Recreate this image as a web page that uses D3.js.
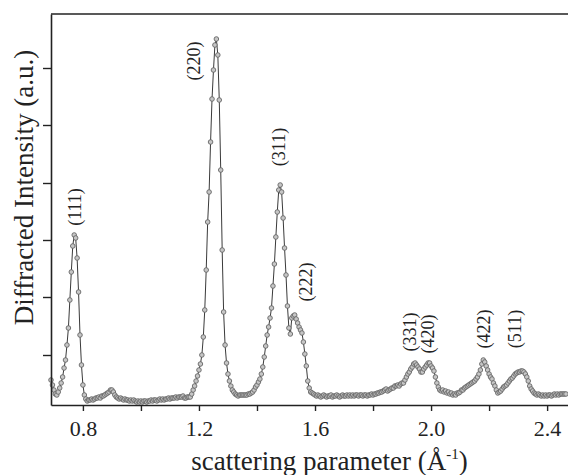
<!DOCTYPE html>
<html><head><meta charset="utf-8">
<script src="https://cdn.jsdelivr.net/npm/d3@7"></script>
<style>body{margin:0;background:#fff}svg{display:block}</style>
</head><body>
<svg id="c" width="568" height="475"></svg>
<script>
// ---- data ----
const qStart = 0.69;      // first scattering parameter (1/Å)
const qStep = 0.005;      // sampling step (1/Å)
const intensity = [
  // 0.690 - 0.815
  25,20,15,11,10,13,17,22,28,37,45,60,77,105,133,159,170,167,147,113,70,40,20,10,6,4,
  // 0.820 - 1.145
  5,5,6,5,6,7,7,8,7,9,9,10,11,12,13,15,
  15,13,10,8,7,6,7,6,5,6,5,5,4,5,4,5,4,3,4,3,
  4,3,4,4,3,4,4,5,4,5,5,4,5,6,5,6,5,6,6,7,
  6,7,7,7,8,7,8,8,8,9,
  // 1.150 - 1.335
  7,7,8,8,8,11,15,19,24,29,35,41,50,68,95,135,183,213,263,306,335,360,366,350,305,235,155,93,60,42,31,24,19,15,13,11,10,9,
  // 1.340 - 1.595
  10,10,10,10,10, 10,11,11,12,13, 15,18,20,23,26, 31,38,48,59,70, 78,87,97,119,141,
  168,193,215,220,213, 187,157,130,99,77, 71,87,89,90,86, 82,78,75,72,63, 51,39,24,17,13, 12,11,
  // 1.600 - 1.845
  10,9,10,9,8,9,10,9,8,9, 9,10,8,9,9,10,9,8,9,10, 9,9,10,9,10,9,10,9,10,10,
  9,10,10,9,10,10,9,10,10,11, 10,11,11,12,12,13,13,14,15,16,
  // 1.850 - 2.465
  14,15,16,17,17,19,19,20,19,21,
  22,22,25,28,31,33,36,38,41,42,
  40,38,36,33,33,36,38,40,42,42,
  39,37,34,28,22,18,15,14,15,13,
  14,12,13,11,12,10,11,10,12,12,
  13,15,15,17,18,19,20,21,22,23,
  24,26,28,31,35,41,45,43,39,35,
  31,28,26,22,19,15,12,13,14,16,
  18,19,20,22,24,26,27,29,31,32,
  33,33,34,34,33,31,28,24,19,16,
  14,12,11,10,11,10,9,10,9,10,
  9,10,10,9,10,11,10,11,10,11,
  11,11,11,11
];
const qValues = intensity.map((_, i) => +(qStart + i * qStep).toFixed(3));

const xMajorTicks = [0.8, 1.2, 1.6, 2.0, 2.4];
const xMinorTicks = [1.0, 1.4, 1.8, 2.2];
const yTicks = [50, 108, 165, 222, 280, 337];

const peakLabels = ["(111)", "(220)", "(311)", "(222)", "(331)", "(420)", "(422)", "(511)"];
const peakLabelQ = [0.774, 1.186, 1.479, 1.571, 1.928, 1.993, 2.183, 2.291];
const peakLabelI = [198, 344, 258, 123, 73, 71, 76, 76];

// ---- chart ----
const FONT = "'Liberation Serif','Times New Roman',Times,serif";
const svg = d3.select('#c');
const x = d3.scaleLinear().domain([0.69, 2.472]).range([51, 568]);
const y = d3.scaleLinear().domain([0, 391]).range([405, 14]);

const data = qValues.map((q, i) => ({q, v: intensity[i]}));

// series line
svg.append('path')
  .datum(data)
  .attr('fill', 'none')
  .attr('stroke', '#3a3a3a')
  .attr('stroke-width', 1)
  .attr('d', d3.line().x(d => x(d.q)).y(d => y(d.v)));

// markers
svg.append('g').selectAll('circle').data(data).join('circle')
  .attr('cx', d => x(d.q)).attr('cy', d => y(d.v))
  .attr('r', 2.3)
  .attr('fill', '#c6c6c6')
  .attr('stroke', '#666')
  .attr('stroke-width', 0.9);

// x axis
const fmt = d3.format('.1f');
const xAxis = d3.axisBottom(x)
  .tickValues([...xMajorTicks, ...xMinorTicks].sort((a, b) => a - b))
  .tickSize(6).tickSizeOuter(0).tickPadding(9.5)
  .tickFormat(d => xMajorTicks.some(t => Math.abs(t - d) < 1e-9) ? fmt(d) : '');
const gx = svg.append('g').attr('transform', `translate(0,${y.range()[0]})`).call(xAxis);
gx.selectAll('text').attr('font-family', FONT).attr('font-size', 22).attr('fill', '#222');

// y axis
const yAxis = d3.axisLeft(y).tickValues(yTicks).tickSize(8).tickSizeOuter(0).tickFormat('');
const gy = svg.append('g').attr('transform', `translate(${x.range()[0]},0)`).call(yAxis);

[gx, gy].forEach(g => {
  g.select('.domain').attr('stroke', '#222').attr('stroke-width', 1.6);
  g.selectAll('.tick line').attr('stroke', '#222').attr('stroke-width', 1.4);
});

// top frame line
svg.append('line')
  .attr('x1', x.range()[0]).attr('x2', x.range()[1])
  .attr('y1', y.range()[1]).attr('y2', y.range()[1])
  .attr('stroke', '#222').attr('stroke-width', 1.6);

// peak labels
svg.append('g').selectAll('text').data(peakLabels).join('text')
  .attr('transform', (d, i) => `translate(${x(peakLabelQ[i])},${y(peakLabelI[i])}) rotate(-90)`)
  .attr('text-anchor', 'middle')
  .attr('dy', '0.3em')
  .attr('font-family', FONT).attr('font-size', 18).attr('fill', '#222')
  .text(d => d);

// y title
svg.append('text')
  .attr('transform', 'translate(33,187.5) rotate(-90)')
  .attr('text-anchor', 'middle')
  .attr('font-family', FONT).attr('font-size', 27).attr('fill', '#222')
  .text('Diffracted Intensity (a.u.)');

// x title
const xt = svg.append('text')
  .attr('x', 329.5).attr('y', 470)
  .attr('text-anchor', 'middle')
  .attr('font-family', FONT).attr('font-size', 27).attr('fill', '#222');
xt.append('tspan').text('scattering parameter (Å');
xt.append('tspan').attr('dy', -11).attr('font-size', 15).text('-1');
xt.append('tspan').attr('dy', 11).text(')');
</script>
</body></html>
